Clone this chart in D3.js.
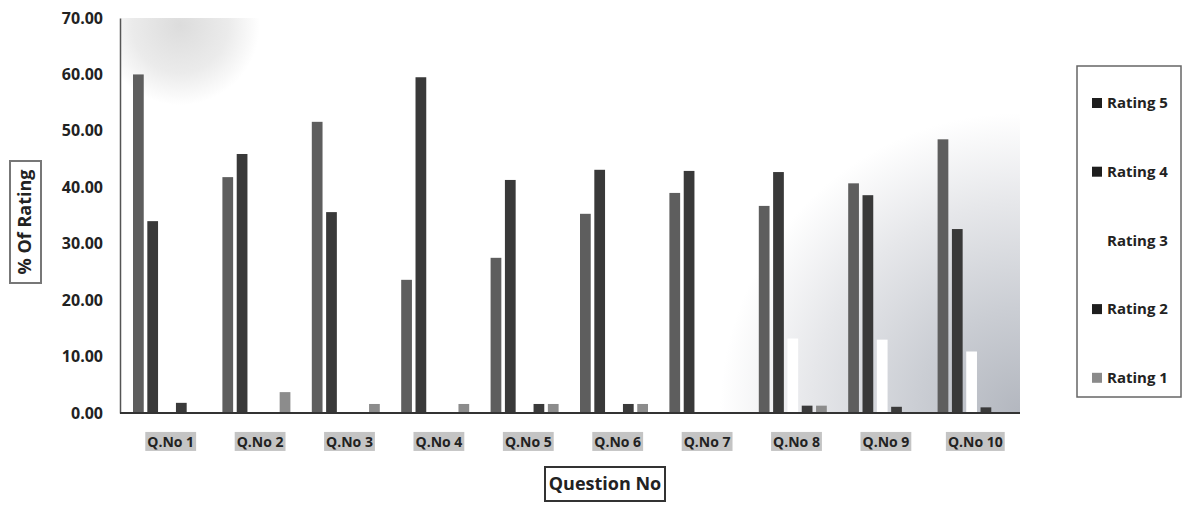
<!DOCTYPE html>
<meta charset="utf-8">
<script src="https://d3js.org/d3.v7.min.js"></script>
<style>
    body { margin: 0; background: #fff; }
    text { font-family: "Open Sans", sans-serif; font-weight: 700; fill: #222; }
</style>
<div id="chart"></div>
<script>
    // data
    var questions = ["Q.No 1", "Q.No 2", "Q.No 3", "Q.No 4", "Q.No 5",
                     "Q.No 6", "Q.No 7", "Q.No 8", "Q.No 9", "Q.No 10"];
    var ratings = ["Rating 1", "Rating 2", "Rating 3", "Rating 4", "Rating 5"];
    var rating1 = [60.0, 41.8, 51.6, 23.6, 27.5, 35.3, 39.0, 36.7, 40.7, 48.5];
    var rating2 = [34.0, 45.9, 35.6, 59.5, 41.3, 43.1, 42.9, 42.7, 38.6, 32.6];
    var rating3 = [0, 0, 0, 0, 0, 0, 0, 13.2, 13.0, 10.9];
    var rating4 = [1.8, 0, 0, 0, 1.6, 1.6, 0, 1.3, 1.1, 1.0];
    var rating5 = [0, 3.7, 1.6, 1.6, 1.6, 1.6, 0, 1.3, 0, 0];
    var yTicks = [0, 10, 20, 30, 40, 50, 60, 70];

    var series = [rating1, rating2, rating3, rating4, rating5];
    var barColors = ["#5e5e5e", "#393939", "#ffffff", "#3a3a3a", "#8c8c8c"];
    var legendColors = ["#8a8a8a", "#1e1e1e", "none", "#1e1e1e", "#1e1e1e"];

    var width = 1184, height = 505;
    var svg = d3.select("#chart").append("svg")
        .attr("width", width)
        .attr("height", height);

    var y = d3.scaleLinear().domain([0, 70]).range([413, 18]);
    var x0 = d3.scaleBand().domain(questions).range([121, 1015]);
    var x1 = d3.scaleBand().domain(ratings).range([12, 80]).paddingInner(0.25);

    // faint scan shading in the plot area
    var defs = svg.append("defs");
    var rg = defs.append("radialGradient").attr("id", "shade")
        .attr("gradientUnits", "userSpaceOnUse")
        .attr("cx", 1020).attr("cy", 413).attr("r", 300);
    rg.append("stop").attr("offset", "0").attr("stop-color", "#b3b7bf");
    rg.append("stop").attr("offset", "0.35").attr("stop-color", "#cbced4");
    rg.append("stop").attr("offset", "0.7").attr("stop-color", "#e6e7ea");
    rg.append("stop").attr("offset", "1").attr("stop-color", "#ffffff");
    svg.append("rect")
        .attr("x", 600).attr("y", 113).attr("width", 420).attr("height", 300)
        .attr("fill", "url(#shade)");
    var tg = defs.append("radialGradient").attr("id", "topshade")
        .attr("gradientUnits", "userSpaceOnUse")
        .attr("cx", 180).attr("cy", 25).attr("r", 80);
    tg.append("stop").attr("offset", "0").attr("stop-color", "#dcdcdc");
    tg.append("stop").attr("offset", "0.6").attr("stop-color", "#ebebeb");
    tg.append("stop").attr("offset", "1").attr("stop-color", "#ffffff");
    svg.append("rect")
        .attr("x", 121).attr("y", 18).attr("width", 140).attr("height", 88)
        .attr("fill", "url(#topshade)");

    // bars
    var groups = svg.selectAll(".grp")
        .data(questions)
        .enter().append("g")
        .attr("class", "grp")
        .attr("transform", function(d) { return "translate(" + x0(d) + ",0)"; });

    groups.selectAll("rect")
        .data(function(d, i) {
            return ratings.map(function(r, k) { return {key: r, k: k, value: series[k][i]}; })
                .filter(function(d) { return d.value > 0; });
        })
        .enter().append("rect")
        .attr("x", function(d) { return x1(d.key); })
        .attr("width", x1.bandwidth())
        .attr("y", function(d) { return y(d.value); })
        .attr("height", function(d) { return y(0) - y(d.value); })
        .attr("fill", function(d) { return barColors[d.k]; });

    // y axis
    var yAxis = svg.append("g")
        .attr("transform", "translate(120,0)")
        .call(d3.axisLeft(y).tickValues(yTicks).tickFormat(d3.format(".2f")).tickSize(0).tickPadding(17));
    yAxis.select(".domain").attr("stroke", "#555").attr("stroke-width", 1.5);
    yAxis.selectAll("text").style("font-size", "16px").attr("fill", "#222");

    // x axis
    var xAxis = svg.append("g")
        .attr("transform", "translate(0,413)")
        .call(d3.axisBottom(x0).tickSize(0).tickPadding(24));
    xAxis.select(".domain").attr("stroke", "#333").attr("stroke-width", 2)
        .attr("d", "M120,0H1020");
    xAxis.selectAll("text").style("font-size", "14px").attr("x", 5).attr("fill", "#111");
    xAxis.selectAll(".tick").each(function() {
        var t = d3.select(this).select("text");
        var b = t.node().getBBox();
        d3.select(this).insert("rect", "text")
            .attr("x", b.x - 2).attr("y", b.y)
            .attr("width", b.width + 4).attr("height", b.height)
            .attr("fill", "#c4c4c4");
    });

    // axis titles in boxes
    var yt = svg.append("g").attr("transform", "translate(25,222) rotate(-90)");
    yt.append("rect").attr("x", -61).attr("y", -15).attr("width", 122).attr("height", 31)
        .attr("fill", "#fff").attr("stroke", "#777").attr("stroke-width", 2);
    yt.append("text").attr("text-anchor", "middle").attr("dy", "0.35em")
        .style("font-size", "18px").text("% Of Rating");

    var xt = svg.append("g").attr("transform", "translate(605,484)");
    xt.append("rect").attr("x", -60).attr("y", -17).attr("width", 120).attr("height", 34)
        .attr("fill", "#fff").attr("stroke", "#333").attr("stroke-width", 2);
    xt.append("text").attr("text-anchor", "middle").attr("dy", "0.35em")
        .style("font-size", "18px").text("Question No");

    // legend (reversed order like the source)
    svg.append("rect")
        .attr("x", 1077).attr("y", 66).attr("width", 104).attr("height", 331)
        .attr("fill", "#fff").attr("stroke", "#666").attr("stroke-width", 1.5);
    var legendOrder = ratings.slice().reverse();
    var leg = svg.selectAll(".leg")
        .data(legendOrder)
        .enter().append("g")
        .attr("class", "leg")
        .attr("transform", function(d, i) { return "translate(1092," + (103 + i * 68.7) + ")"; });
    leg.append("rect")
        .attr("x", 0).attr("y", -5).attr("width", 10).attr("height", 10)
        .attr("fill", function(d) { return legendColors[ratings.indexOf(d)]; });
    leg.append("text")
        .attr("x", 15).attr("dy", "0.35em")
        .style("font-size", "15px")
        .text(function(d) { return d; });
</script>
